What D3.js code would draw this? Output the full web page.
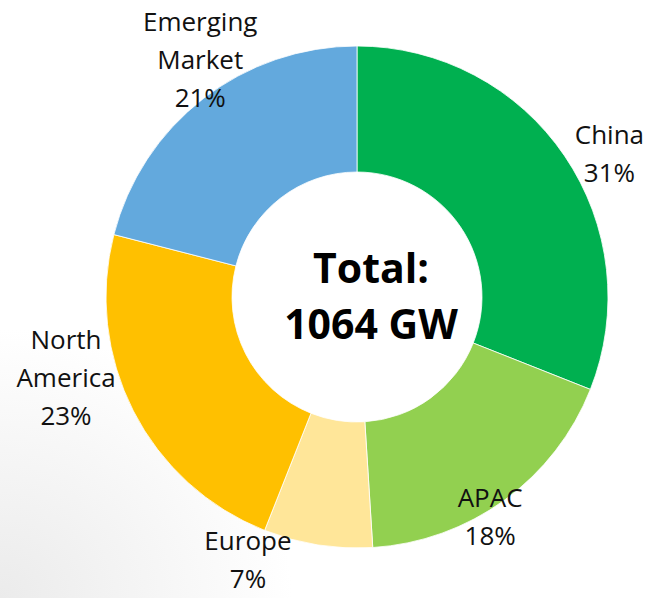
<!DOCTYPE html>
<html><head><meta charset="utf-8">
<script src="https://cdn.jsdelivr.net/npm/d3@7"></script>
<style>html,body{margin:0;padding:0;background:#fff;}svg{display:block;}</style>
</head><body>
<svg id="chart" width="650" height="598"></svg>
<script>
const categories = ["China", "APAC", "Europe", "North America", "Emerging Market"];
const shares = [31, 18, 7, 23, 21];
const colors = ["#00B050", "#92D050", "#FFE699", "#FFC000", "#63A9DD"];
const labelLines = [["China", "31%"], ["APAC", "18%"], ["Europe", "7%"], ["North", "America", "23%"], ["Emerging", "Market", "21%"]];
const centerLines = ["Total:", "1064 GW"];
// label anchor: angle (deg, clockwise from top) and radius of label block center
const labelAngle = [60.5, 148.8, 202.5, 254.5, 326.5];
const labelRadius = [290, 257, 285, 302, 284];

const W = 650, H = 598, cx = 357, cy = 297, R = 251, r = 125;
const svg = d3.select("#chart");
const defs = svg.append("defs");
const g1 = defs.append("radialGradient").attr("id", "bg").attr("cx", "0").attr("cy", "1").attr("r", "0.45");
g1.append("stop").attr("offset", "0").attr("stop-color", "#ebebeb");
g1.append("stop").attr("offset", "1").attr("stop-color", "#ffffff");
svg.append("rect").attr("width", W).attr("height", H).attr("fill", "url(#bg)");

const pie = d3.pie().sort(null).value(d => d)(shares);
const arc = d3.arc().innerRadius(r).outerRadius(R);
const g = svg.append("g").attr("transform", `translate(${cx},${cy})`);
g.selectAll("path").data(pie).join("path")
  .attr("d", arc).attr("fill", (d, i) => colors[i])
  .attr("stroke", "#fff").attr("stroke-width", 0.8);

const fontFam = "'Open Sans', Lato, sans-serif";
const lh = 38;
labelLines.forEach((lines, i) => {
  const a = labelAngle[i] * Math.PI / 180;
  const x = labelRadius[i] * Math.sin(a), y = -labelRadius[i] * Math.cos(a);
  const t = g.append("text").attr("text-anchor", "middle")
    .attr("font-family", fontFam).attr("font-size", 26).attr("fill", "#111");
  const n = lines.length;
  lines.forEach((s, k) => {
    t.append("tspan").attr("x", x).attr("y", y + (k - (n - 1) / 2) * lh).attr("dy", "0.35em").text(s);
  });
});

const ct = g.append("text").attr("text-anchor", "middle")
  .attr("font-family", "'Open Sans', Lato, sans-serif").attr("font-weight", "bold")
  .attr("font-size", 41).attr("fill", "#000");
centerLines.forEach((s, k) => {
  ct.append("tspan").attr("x", 14).attr("y", (k - 0.5) * 56).attr("dy", "0.35em").text(s);
});
</script>
</body></html>
